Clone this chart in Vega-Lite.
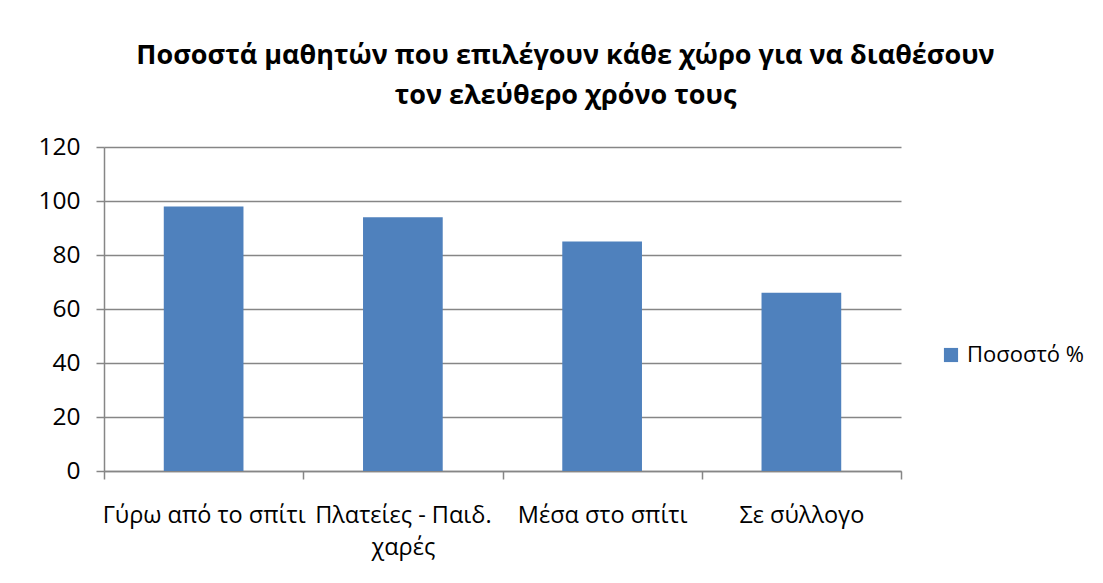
{
  "$schema": "https://vega.github.io/schema/vega-lite/v6.json",
  "width": 797,
  "height": 324,
  "autosize": {"type": "none"},
  "padding": {"left": 104, "top": 147, "right": 202, "bottom": 112},
  "background": "white",
  "title": {
    "text": ["Ποσοστά μαθητών που επιλέγουν κάθε χώρο για να διαθέσουν", "τον ελεύθερο χρόνο τους"],
    "font": "Open Sans",
    "fontSize": 27,
    "fontWeight": "bold",
    "color": "#000000",
    "anchor": "middle",
    "frame": "group",
    "dx": 63,
    "lineHeight": 40,
    "offset": 24
  },
  "data": {
    "values": [
      {"place": "Γύρω από το σπίτι", "value": 98, "series": "Ποσοστό %"},
      {"place": "Πλατείες - Παιδ. χαρές", "value": 94, "series": "Ποσοστό %"},
      {"place": "Μέσα στο σπίτι", "value": 85, "series": "Ποσοστό %"},
      {"place": "Σε σύλλογο", "value": 66, "series": "Ποσοστό %"}
    ]
  },
  "mark": {"type": "bar", "width": {"band": 0.4}},
  "encoding": {
    "x": {
      "field": "place",
      "type": "nominal",
      "sort": null,
      "scale": {"paddingInner": 0, "paddingOuter": 0},
      "axis": {
        "title": null,
        "labelAngle": 0,
        "labelFont": "Open Sans",
        "labelFontSize": 23.5,
        "labelColor": "#000000",
        "labelPadding": 24,
        "labelLineHeight": 32,
        "labelLimit": 0,
        "labelOverlap": false,
        "labelExpr": "datum.label == 'Πλατείες - Παιδ. χαρές' ? ['Πλατείες - Παιδ.', 'χαρές'] : datum.label",
        "tickBand": "extent",
        "tickSize": 8,
        "tickColor": "#868686",
        "tickWidth": 1.5,
        "domainColor": "#868686",
        "domainWidth": 1.5,
        "grid": false
      }
    },
    "y": {
      "field": "value",
      "type": "quantitative",
      "scale": {"domain": [0, 120], "nice": false},
      "axis": {
        "title": null,
        "values": [0, 20, 40, 60, 80, 100, 120],
        "labelFont": "Open Sans",
        "labelFontSize": 24.5,
        "labelColor": "#000000",
        "labelPadding": 16,
        "tickSize": 8,
        "tickColor": "#868686",
        "tickWidth": 1.5,
        "domainColor": "#868686",
        "domainWidth": 1.5,
        "grid": true,
        "gridColor": "#868686",
        "gridWidth": 1.5
      }
    },
    "color": {
      "field": "series",
      "type": "nominal",
      "scale": {"range": ["#4F81BD"]},
      "legend": {
        "title": null,
        "orient": "none",
        "legendX": 836,
        "legendY": 197,
        "symbolType": "square",
        "symbolSize": 200,
        "symbolStrokeWidth": 0,
        "labelFont": "Open Sans",
        "labelFontSize": 22,
        "labelColor": "#000000",
        "labelOffset": 5,
        "labelLimit": 0
      }
    }
  },
  "config": {"view": {"stroke": null}}
}
